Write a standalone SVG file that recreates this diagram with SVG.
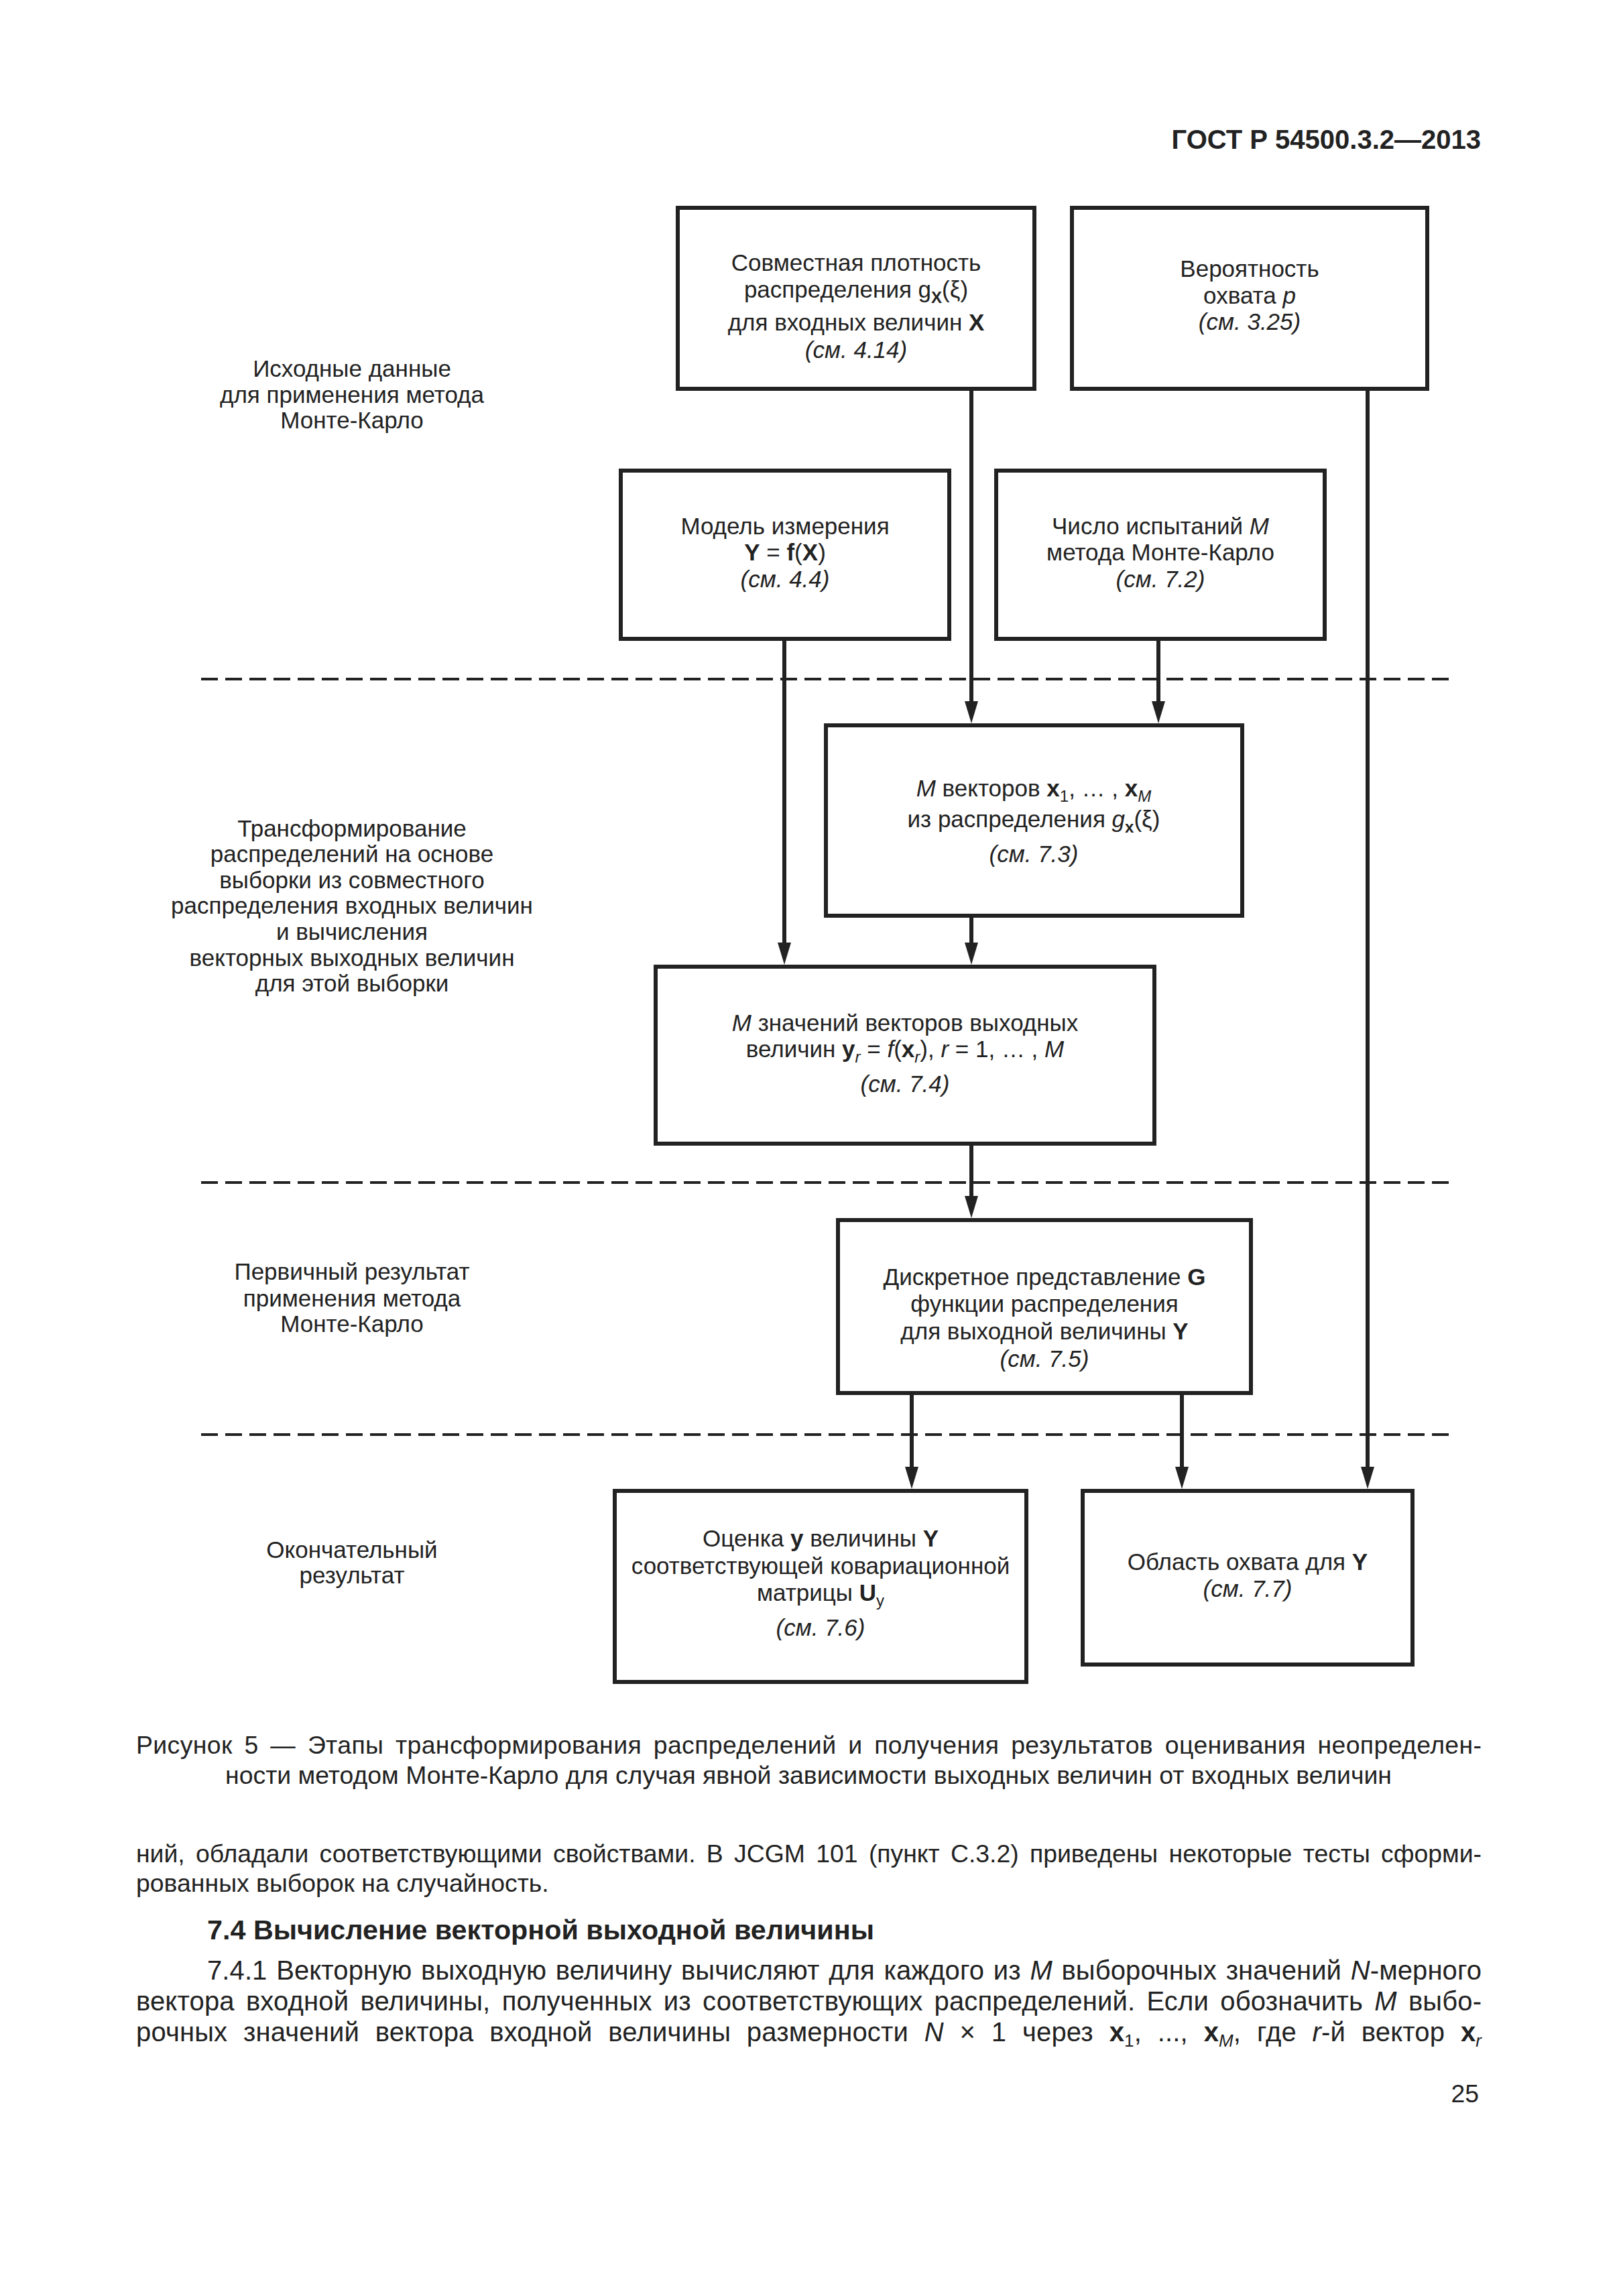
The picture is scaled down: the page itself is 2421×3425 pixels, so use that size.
<svg xmlns="http://www.w3.org/2000/svg" width="2421" height="3425" viewBox="0 0 2421 3425">
<style>
text{font-family:"Liberation Sans",Arial,sans-serif;fill:#222}
.t{font-size:35px;text-anchor:middle}
.i{font-style:italic}
.b{font-weight:bold}
.s{font-size:24px}
.s2{font-size:26px}
.box{fill:#fff;stroke:#222;stroke-width:6}
.conn{stroke:#222;stroke-width:6;fill:none}
.dash{stroke:#222;stroke-width:4;stroke-dasharray:25 11;fill:none}
.cap{font-size:37.4px}
.body{font-size:37.4px}
.body2{font-size:40px}
</style>
<defs>
<marker id="ah" markerUnits="userSpaceOnUse" markerWidth="34" markerHeight="20" refX="8" refY="10" orient="auto">
<path d="M0,0 L33,10 L0,20 Z" fill="#222"/>
</marker>
</defs>
<rect width="2421" height="3425" fill="#fff"/>

<text x="2209" y="222" class="b" style="font-size:40px;text-anchor:end">ГОСТ Р 54500.3.2—2013</text>

<g id="stage-labels">
<text class="t"><tspan x="525" y="562">Исходные данные</tspan><tspan x="525" y="601">для применения метода</tspan><tspan x="525" y="639">Монте-Карло</tspan></text>
<text class="t"><tspan x="525" y="1248">Трансформирование</tspan><tspan x="525" y="1286">распределений на основе</tspan><tspan x="525" y="1325">выборки из совместного</tspan><tspan x="525" y="1363">распределения входных величин</tspan><tspan x="525" y="1402">и вычисления</tspan><tspan x="525" y="1441">векторных выходных величин</tspan><tspan x="525" y="1479">для этой выборки</tspan></text>
<text class="t"><tspan x="525" y="1909">Первичный результат</tspan><tspan x="525" y="1949">применения метода</tspan><tspan x="525" y="1987">Монте-Карло</tspan></text>
<text class="t"><tspan x="525" y="2324">Окончательный</tspan><tspan x="525" y="2362">результат</tspan></text>
</g>

<g id="separators">
<line class="dash" x1="300" y1="1013" x2="2168" y2="1013"/>
<line class="dash" x1="300" y1="1764" x2="2168" y2="1764"/>
<line class="dash" x1="300" y1="2140" x2="2168" y2="2140"/>
</g>

<g id="connectors">
<line class="conn" x1="1449" y1="580" x2="1449" y2="1054" marker-end="url(#ah)"/>
<line class="conn" x1="1728" y1="953" x2="1728" y2="1054" marker-end="url(#ah)"/>
<line class="conn" x1="1170" y1="953" x2="1170" y2="1414" marker-end="url(#ah)"/>
<line class="conn" x1="2040" y1="580" x2="2040" y2="2196" marker-end="url(#ah)"/>
<line class="conn" x1="1449" y1="1366" x2="1449" y2="1414" marker-end="url(#ah)"/>
<line class="conn" x1="1449" y1="1706" x2="1449" y2="1792" marker-end="url(#ah)"/>
<line class="conn" x1="1360" y1="2078" x2="1360" y2="2196" marker-end="url(#ah)"/>
<line class="conn" x1="1763" y1="2078" x2="1763" y2="2196" marker-end="url(#ah)"/>
</g>

<g id="node-density">
<rect class="box" x="1011" y="310" width="532" height="270"/>
<text class="t" x="1277" y="404">Совместная плотность</text>
<text class="t" x="1277" y="444">распределения g<tspan class="b s" dy="8">X</tspan><tspan dy="-8">(ξ)</tspan></text>
<text class="t" x="1277" y="493">для входных величин <tspan class="b">X</tspan></text>
<text class="t i" x="1277" y="534">(см. 4.14)</text>
</g>

<g id="node-probability">
<rect class="box" x="1599" y="310" width="530" height="270"/>
<text class="t" x="1864" y="413">Вероятность</text>
<text class="t" x="1864" y="453">охвата <tspan class="i">p</tspan></text>
<text class="t i" x="1864" y="492">(см. 3.25)</text>
</g>

<g id="node-model">
<rect class="box" x="926" y="702" width="490" height="251"/>
<text class="t" x="1171" y="797">Модель измерения</text>
<text class="t" x="1171" y="836"><tspan class="b">Y</tspan> = <tspan class="b">f</tspan>(<tspan class="b">X</tspan>)</text>
<text class="t i" x="1171" y="876">(см. 4.4)</text>
</g>

<g id="node-trials">
<rect class="box" x="1486" y="702" width="490" height="251"/>
<text class="t" x="1731" y="797">Число испытаний <tspan class="i">M</tspan></text>
<text class="t" x="1731" y="836">метода Монте-Карло</text>
<text class="t i" x="1731" y="876">(см. 7.2)</text>
</g>

<g id="node-vectors">
<rect class="box" x="1232" y="1082" width="621" height="284"/>
<text class="t" x="1542" y="1188"><tspan class="i">M</tspan> векторов <tspan class="b">x</tspan><tspan class="s" dy="8">1</tspan><tspan dy="-8">, … , </tspan><tspan class="b">x</tspan><tspan class="s i" dy="8">M</tspan></text>
<text class="t" x="1542" y="1234">из распределения <tspan class="i">g</tspan><tspan class="b s" dy="8">x</tspan><tspan dy="-8">(ξ)</tspan></text>
<text class="t i" x="1542" y="1286">(см. 7.3)</text>
</g>

<g id="node-outputs">
<rect class="box" x="978" y="1442" width="744" height="264"/>
<text class="t" x="1350" y="1538"><tspan class="i">M</tspan> значений векторов выходных</text>
<text class="t" x="1350" y="1577">величин <tspan class="b">y</tspan><tspan class="s i" dy="8">r</tspan><tspan dy="-8"> = </tspan><tspan class="i">f</tspan>(<tspan class="b">x</tspan><tspan class="s i" dy="8">r</tspan><tspan dy="-8">), </tspan><tspan class="i">r</tspan> = 1, … , <tspan class="i">M</tspan></text>
<text class="t i" x="1350" y="1629">(см. 7.4)</text>
</g>

<g id="node-distribution">
<rect class="box" x="1250" y="1820" width="616" height="258"/>
<text class="t" x="1558" y="1917">Дискретное представление <tspan class="b">G</tspan></text>
<text class="t" x="1558" y="1957">функции распределения</text>
<text class="t" x="1558" y="1998">для выходной величины <tspan class="b">Y</tspan></text>
<text class="t i" x="1558" y="2039">(см. 7.5)</text>
</g>

<g id="node-estimate">
<rect class="box" x="917" y="2224" width="614" height="285"/>
<text class="t" x="1224" y="2307">Оценка <tspan class="b">y</tspan> величины <tspan class="b">Y</tspan></text>
<text class="t" x="1224" y="2348">соответствующей ковариационной</text>
<text class="t" x="1224" y="2388">матрицы <tspan class="b">U</tspan><tspan class="s" dy="8">y</tspan></text>
<text class="t i" x="1224" y="2440">(см. 7.6)</text>
</g>

<g id="node-coverage">
<rect class="box" x="1615" y="2224" width="492" height="259"/>
<text class="t" x="1861" y="2342">Область охвата для <tspan class="b">Y</tspan></text>
<text class="t i" x="1861" y="2382">(см. 7.7)</text>
</g>

<g id="caption">
<text class="cap" x="203" y="2616" word-spacing="7" textLength="2007" lengthAdjust="spacing">Рисунок 5 — Этапы трансформирования распределений и получения результатов оценивания неопределен-</text>
<text class="cap" x="1206" y="2661" style="text-anchor:middle">ности методом Монте-Карло для случая явной зависимости выходных величин от входных величин</text>
</g>

<g id="body-text">
<text class="body" x="203" y="2778" word-spacing="6" textLength="2007" lengthAdjust="spacing">ний, обладали соответствующими свойствами. В JCGM 101 (пункт С.3.2) приведены некоторые тесты сформи-</text>
<text class="body" x="203" y="2822">рованных выборок на случайность.</text>
<text class="b" x="309" y="2893" style="font-size:41.3px">7.4 Вычисление векторной выходной величины</text>
<text class="body2" x="309" y="2953" word-spacing="2.5" textLength="1901" lengthAdjust="spacing">7.4.1 Векторную выходную величину вычисляют для каждого из <tspan class="i">M</tspan> выборочных значений <tspan class="i">N</tspan>-мерного</text>
<text class="body2" x="203" y="2999" word-spacing="6" textLength="2007" lengthAdjust="spacing">вектора входной величины, полученных из соответствующих распределений. Если обозначить <tspan class="i">M</tspan> выбо-</text>
<text class="body2" x="203" y="3045" word-spacing="12.5" textLength="2007" lengthAdjust="spacing">рочных значений вектора входной величины размерности <tspan class="i">N</tspan> × 1 через <tspan class="b">x</tspan><tspan class="s2" dy="8">1</tspan><tspan dy="-8">, ..., </tspan><tspan class="b">x</tspan><tspan class="s2 i" dy="8">M</tspan><tspan dy="-8">, где </tspan><tspan class="i">r</tspan>-й вектор <tspan class="b">x</tspan><tspan class="s2 i" dy="8">r</tspan></text>
<text class="body" x="2206" y="3136" style="text-anchor:end">25</text>
</g>
</svg>
